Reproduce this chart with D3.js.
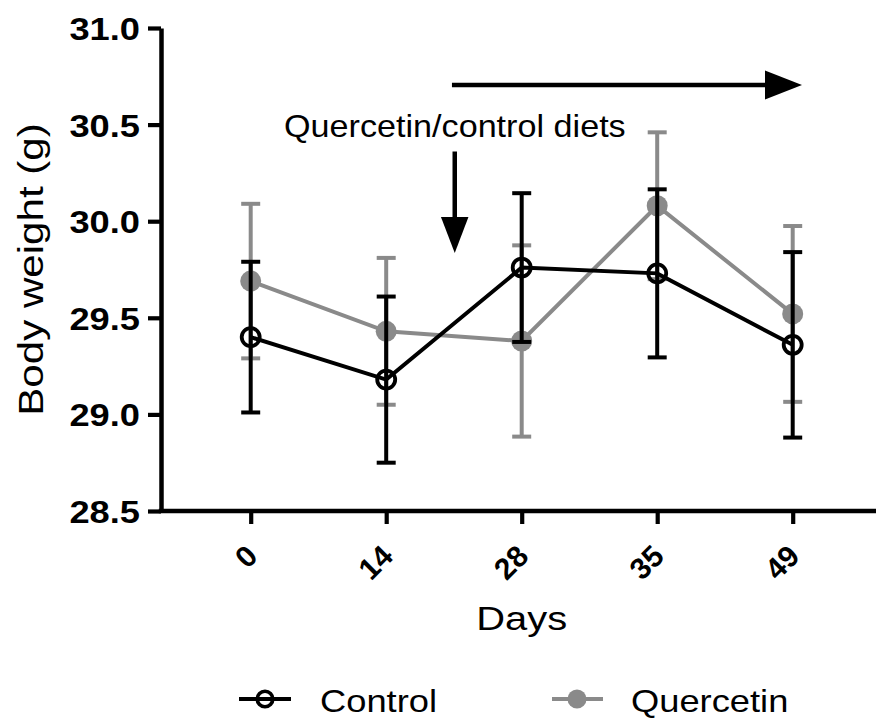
<!DOCTYPE html>
<html>
<head>
<meta charset="utf-8">
<script src="https://cdn.jsdelivr.net/npm/d3@7"></script>
<style>
  body { margin: 0; background: #fff; }
  svg { display: block; }
  text { font-family: "Liberation Sans", Arial, sans-serif; fill: #000; }
</style>
</head>
<body>
<svg id="chart" width="876" height="718"></svg>
<script>
// Body weight (g) over time, mean ± SEM
const days = ["0", "14", "28", "35", "49"];
const controlMean = [29.40, 29.18, 29.76, 29.73, 29.36];
const controlSem  = [0.39, 0.43, 0.385, 0.435, 0.48];
const quercetinMean = [29.69, 29.43, 29.38, 30.08, 29.52];
const quercetinSem  = [0.40, 0.38, 0.495, 0.38, 0.455];
const yTicks = [28.5, 29.0, 29.5, 30.0, 30.5, 31.0];
const seriesNames = ["Control", "Quercetin"];

const GRAY = "#8a8a8a";
const svg = d3.select("#chart");

const x = d3.scalePoint().domain(days).range([250.7, 792.7]);
const y = d3.scaleLinear().domain([28.5, 31.0]).range([511, 28]);
const axisX = 161;

// Y axis
const gy = svg.append("g").attr("transform", `translate(${axisX},0)`)
  .call(d3.axisLeft(y).tickValues(yTicks).tickFormat(d3.format(".1f")).tickSize(13).tickSizeOuter(0));
gy.select(".domain").attr("stroke", "#000").attr("stroke-width", 4.5);
gy.selectAll(".tick line").attr("stroke", "#000").attr("stroke-width", 4.2);
gy.selectAll(".tick text")
  .attr("x", null).attr("dy", null)
  .attr("transform", "translate(-21,11.5) scale(1.17,1)")
  .attr("text-anchor", "end")
  .style("font-size", "31px").style("font-weight", "bold")
  .style("font-family", "'Liberation Sans', Arial, sans-serif");

// X axis
const gx = svg.append("g").attr("transform", `translate(0,${y(28.5)})`)
  .call(d3.axisBottom(x).tickSize(13).tickSizeOuter(0));
gx.select(".domain").remove();
gx.append("line").attr("x1", axisX - 2.2).attr("x2", 876).attr("y1", 0).attr("y2", 0)
  .attr("stroke", "#000").attr("stroke-width", 4.5);
gx.selectAll(".tick line").attr("stroke", "#000").attr("stroke-width", 4.2);
gx.selectAll(".tick text")
  .attr("y", null).attr("dy", null)
  .attr("transform", "translate(8,47) rotate(-45)")
  .attr("text-anchor", "end")
  .style("font-size", "30px").style("font-weight", "bold")
  .style("font-family", "'Liberation Sans', Arial, sans-serif");

// Axis titles
svg.append("text")
  .attr("transform", `translate(${(x("0") + x("49")) / 2},630) scale(1.19,1)`)
  .attr("text-anchor", "middle").style("font-size", "33.5px")
  .text("Days");
svg.append("text")
  .attr("transform", `translate(43,${(y(28.5) + y(31.0)) / 2}) rotate(-90) scale(1.17,1)`)
  .attr("text-anchor", "middle").style("font-size", "36px")
  .text("Body weight  (g)");

// Series drawing: error bars with caps, connecting line, markers
function drawSeries(means, sems, color, open) {
  const g = svg.append("g");
  const pts = days.map((d, i) => ({ d, m: means[i], s: sems[i] }));
  const capW = 9.5;
  pts.forEach(p => {
    const cx = x(p.d);
    g.append("line").attr("x1", cx).attr("x2", cx).attr("y1", y(p.m + p.s)).attr("y2", y(p.m - p.s))
      .attr("stroke", color).attr("stroke-width", 4);
    [p.m + p.s, p.m - p.s].forEach(v => {
      g.append("line").attr("x1", cx - capW).attr("x2", cx + capW).attr("y1", y(v)).attr("y2", y(v))
        .attr("stroke", color).attr("stroke-width", 4);
    });
  });
  g.append("path").datum(pts)
    .attr("d", d3.line().x(p => x(p.d)).y(p => y(p.m)))
    .attr("fill", "none").attr("stroke", color).attr("stroke-width", 4);
  g.selectAll("circle").data(pts).join("circle")
    .attr("cx", p => x(p.d)).attr("cy", p => y(p.m))
    .attr("r", open ? 9 : 10.5)
    .attr("fill", open ? "none" : color)
    .attr("stroke", open ? color : "none")
    .attr("stroke-width", open ? 3.8 : 0);
}
drawSeries(quercetinMean, quercetinSem, GRAY, false);
drawSeries(controlMean, controlSem, "#000", true);

// Diet annotation
const xStart = (x("14") + x("28")) / 2;
svg.append("line").attr("x1", xStart - 2).attr("x2", 770).attr("y1", 85).attr("y2", 85)
  .attr("stroke", "#000").attr("stroke-width", 4.3);
svg.append("path").attr("d", "M765,70.5 L802,85 L765,99.5 Z").attr("fill", "#000");
svg.append("line").attr("x1", xStart + 0.8).attr("x2", xStart + 0.8).attr("y1", 151.5).attr("y2", 222)
  .attr("stroke", "#000").attr("stroke-width", 4.5);
svg.append("path")
  .attr("d", `M${xStart - 13},217 L${xStart + 14.5},217 L${xStart + 0.8},253 Z`)
  .attr("fill", "#000");
svg.append("text")
  .attr("transform", "translate(284,136.5) scale(1.12,1)")
  .style("font-size", "30.5px")
  .text("Quercetin/control diets");

// Legend
const legendY = 699;
const lg = svg.append("g");
lg.append("line").attr("x1", 239).attr("x2", 291).attr("y1", legendY).attr("y2", legendY)
  .attr("stroke", "#000").attr("stroke-width", 4);
lg.append("circle").attr("cx", 265).attr("cy", legendY).attr("r", 7.8)
  .attr("fill", "none").attr("stroke", "#000").attr("stroke-width", 3.6);
lg.append("text").attr("transform", "translate(320,711.5) scale(1.19,1)")
  .style("font-size", "30.5px").text(seriesNames[0]);
lg.append("line").attr("x1", 552).attr("x2", 603).attr("y1", legendY).attr("y2", legendY)
  .attr("stroke", GRAY).attr("stroke-width", 4);
lg.append("circle").attr("cx", 577).attr("cy", legendY).attr("r", 9.5).attr("fill", GRAY);
lg.append("text").attr("transform", "translate(631,711.5) scale(1.19,1)")
  .style("font-size", "30.5px").text(seriesNames[1]);
</script>
</body>
</html>
